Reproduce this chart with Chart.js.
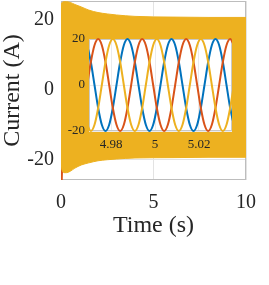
<!DOCTYPE html>
<html>
<head>
<meta charset="utf-8">
<script src="https://cdn.jsdelivr.net/npm/chart.js@4"></script>
<style>
  body { margin: 0; background: #fff; }
  #wrap { position: relative; width: 269px; height: 285px; }
  #wrap canvas { position: absolute; left: 0; top: 0; }
</style>
</head>
<body>
<div id="wrap">
  <canvas id="mainChart" width="269" height="285"></canvas>
  <canvas id="insetChart" width="269" height="285"></canvas>
</div>
<script>
// main plot: the 50 Hz currents are far too dense to resolve, so keep their envelope
const envTime  = [0, 0.05, 0.15, 0.3, 0.5, 0.75, 1.1, 1.5, 2.0, 2.5, 3.0, 4.0, 6.0, 8.0, 10];
const envUpper = [24.0, 24.8, 25.1, 25.1, 24.9, 24.3, 23.6, 22.7, 22.0, 21.6, 21.3, 20.9, 20.7, 20.6, 20.6];
const envLower = [-22.2, -23.0, -23.8, -23.8, -23.4, -22.5, -21.6, -21.0, -20.4, -20.1, -19.9, -19.6, -19.5, -19.4, -19.4];
// phase b dips below the band right at start-up
const spikeTime    = [0.02, 0.04, 0.06];
const spikeCurrent = [-22.0, -25.9, -22.0];
const mainXTicks = [0, 5, 10];
const mainYTicks = [-20, 0, 20];

// inset: zoom around t = 5 s
const insetTime = [4.96917, 4.97083, 4.97250, 4.97417, 4.97583, 4.97750, 4.97917, 4.98083, 4.98250, 4.98417,
                   4.98583, 4.98750, 4.98917, 4.99083, 4.99250, 4.99417, 4.99583, 4.99750, 4.99917, 5.00083,
                   5.00250, 5.00417, 5.00583, 5.00750, 5.00917, 5.01083, 5.01250, 5.01417, 5.01583, 5.01750,
                   5.01917, 5.02083, 5.02250, 5.02417, 5.02583, 5.02750, 5.02917, 5.03083, 5.03250, 5.03417,
                   5.03583];
const currentA = [17.3, 10, 0, -10, -17.3, -20, -17.3, -10, 0, 10, 17.3, 20,
                  17.3, 10, 0, -10, -17.3, -20, -17.3, -10, 0, 10, 17.3, 20,
                  17.3, 10, 0, -10, -17.3, -20, -17.3, -10, 0, 10, 17.3, 20,
                  17.3, 10, 0, -10, -17.3];
const currentB = [0, 10, 17.3, 20, 17.3, 10, 0, -10, -17.3, -20, -17.3, -10,
                  0, 10, 17.3, 20, 17.3, 10, 0, -10, -17.3, -20, -17.3, -10,
                  0, 10, 17.3, 20, 17.3, 10, 0, -10, -17.3, -20, -17.3, -10,
                  0, 10, 17.3, 20, 17.3];
const currentC = [-17.3, -20, -17.3, -10, 0, 10, 17.3, 20, 17.3, 10, 0, -10,
                  -17.3, -20, -17.3, -10, 0, 10, 17.3, 20, 17.3, 10, 0, -10,
                  -17.3, -20, -17.3, -10, 0, 10, 17.3, 20, 17.3, 10, 0, -10,
                  -17.3, -20, -17.3, -10, 0];
const insetXTicks = [4.98, 5, 5.02];
const insetYTicks = [-20, 0, 20];

const serif = "'Liberation Serif', 'Times New Roman', serif";
const blue = '#0072BD';
const orange = '#D95319';
const yellow = '#EDB120';
const textColor = '#262626';

function pts(xs, ys) {
    return xs.map((x, i) => ({ x: x, y: ys[i] }));
}

// white axes background + thin grey box like matlab
const boxPlugin = {
    id: 'axesBox',
    beforeDraw(chart, args, opts) {
        if (!opts.fill) return;
        const a = chart.chartArea;
        chart.ctx.save();
        chart.ctx.fillStyle = opts.fill;
        chart.ctx.fillRect(a.left, a.top, a.right - a.left, a.bottom - a.top);
        chart.ctx.restore();
    },
    beforeDatasetsDraw(chart, args, opts) {
        const a = chart.chartArea;
        const ctx = chart.ctx;
        ctx.save();
        ctx.strokeStyle = opts.color || '#bcbcbc';
        ctx.lineWidth = 1;
        ctx.strokeRect(a.left + 0.5, a.top + 0.5, a.right - a.left - 1, a.bottom - a.top - 1);
        ctx.restore();
    }
};

function tickFont(size) {
    return { family: serif, size: size };
}

// fixed axis boxes so the plot area lands where the figure has it
function fixWidth(w) {
    return s => { s.width = w; s.paddingTop = 0; s.paddingBottom = 0; };
}
function fixHeight(h) {
    return s => { s.height = h; s.paddingLeft = 0; s.paddingRight = 0; };
}

new Chart(document.getElementById('mainChart'), {
    type: 'line',
    data: {
        datasets: [
            {
                label: 'Phase c',
                data: pts(envTime, envUpper),
                borderColor: yellow,
                backgroundColor: yellow,
                borderWidth: 1,
                pointRadius: 0,
                cubicInterpolationMode: 'monotone',
                fill: '+1',
                order: 0
            },
            {
                label: 'Phase c (lower)',
                data: pts(envTime, envLower),
                borderColor: yellow,
                borderWidth: 1,
                pointRadius: 0,
                cubicInterpolationMode: 'monotone',
                fill: false,
                order: 0
            },
            {
                label: 'Phase b',
                data: pts(spikeTime, spikeCurrent),
                borderColor: orange,
                borderWidth: 2,
                pointRadius: 0,
                fill: false,
                order: 1
            }
        ]
    },
    options: {
        responsive: false,
        animation: false,
        events: [],
        layout: { padding: { top: 1, right: 23, bottom: 0, left: 0 } },
        plugins: {
            legend: { display: false },
            tooltip: { enabled: false },
            axesBox: { color: '#bdbdbd' }
        },
        scales: {
            x: {
                type: 'linear',
                min: 0,
                max: 10,
                afterBuildTicks: s => { s.ticks = mainXTicks.map(v => ({ value: v })); },
                afterFit: fixHeight(105),
                ticks: { font: tickFont(20), color: textColor, padding: 11, maxRotation: 0, autoSkip: false, callback: v => String(v) },
                grid: { color: '#e3e3e3', drawTicks: false },
                border: { display: false },
                title: { display: true, text: 'Time (s)', color: textColor, font: { family: serif, size: 24, lineHeight: 1.2 }, padding: { top: 0, bottom: 45 } }
            },
            y: {
                type: 'linear',
                min: -25.9,
                max: 25.3,
                afterBuildTicks: s => { s.ticks = mainYTicks.map(v => ({ value: v })); },
                afterFit: fixWidth(61),
                ticks: { font: tickFont(20), color: textColor, padding: 7, autoSkip: false, callback: v => String(v) },
                grid: { color: '#e3e3e3', drawTicks: false },
                border: { display: false },
                title: { display: true, text: 'Current (A)', color: textColor, font: { family: serif, size: 24, lineHeight: 1 }, padding: { top: 1, bottom: 0 } }
            }
        }
    },
    plugins: [boxPlugin]
});

new Chart(document.getElementById('insetChart'), {
    type: 'line',
    data: {
        datasets: [
            { label: 'a', data: pts(insetTime, currentA), borderColor: blue, order: 2 },
            { label: 'b', data: pts(insetTime, currentB), borderColor: orange, order: 1 },
            { label: 'c', data: pts(insetTime, currentC), borderColor: yellow, order: 0 }
        ].map(d => Object.assign(d, {
            borderWidth: 2,
            pointRadius: 0,
            fill: false,
            cubicInterpolationMode: 'monotone',
            clip: { left: 0, right: 0, top: 1, bottom: 1 }
        }))
    },
    options: {
        responsive: false,
        animation: false,
        events: [],
        layout: { padding: { top: 39, right: 37, bottom: 0, left: 0 } },
        plugins: {
            legend: { display: false },
            tooltip: { enabled: false },
            axesBox: { fill: '#ffffff', color: '#c8c8c8' }
        },
        scales: {
            x: {
                type: 'linear',
                min: 4.97,
                max: 5.035,
                afterBuildTicks: s => { s.ticks = insetXTicks.map(v => ({ value: v })); },
                afterFit: fixHeight(154),
                ticks: { font: tickFont(13), color: textColor, padding: 6, maxRotation: 0, autoSkip: false, callback: v => String(v) },
                grid: { color: '#ebebeb', drawTicks: false },
                border: { display: false }
            },
            y: {
                type: 'linear',
                min: -20,
                max: 20,
                afterBuildTicks: s => { s.ticks = insetYTicks.map(v => ({ value: v })); },
                afterFit: fixWidth(89),
                ticks: { font: tickFont(13), color: textColor, padding: 4, autoSkip: false, callback: v => String(v) },
                grid: { color: '#ebebeb', drawTicks: false },
                border: { display: false }
            }
        }
    },
    plugins: [boxPlugin]
});
</script>
</body>
</html>
